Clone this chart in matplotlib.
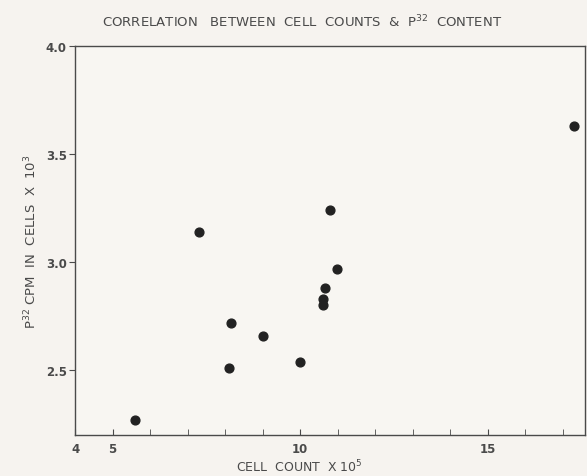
import matplotlib
matplotlib.use("Agg")
import matplotlib.pyplot as plt
from matplotlib.ticker import MultipleLocator, FixedLocator

# values
cell_count = [5.6, 7.3, 8.15, 8.1, 9.0, 10.0, 10.8, 10.97, 10.65, 10.62, 10.6, 17.3]
p32_cpm = [2.27, 3.14, 2.72, 2.51, 2.66, 2.54, 3.24, 2.97, 2.88, 2.83, 2.80, 3.63]
x_ticks = [4, 5, 10, 15]
y_ticks = [2.5, 3.0, 3.5, 4.0]

ink = "#4a4a4a"
paper = "#f6f3ef"

fig = plt.figure(figsize=(5.87, 4.77), dpi=100, facecolor=paper)
ax = fig.add_axes([0.128, 0.086, 0.869, 0.815], facecolor="#f8f6f2")

ax.scatter(cell_count, p32_cpm, s=40, color="#222222", zorder=3)

ax.set_xlim(4, 17.6)
ax.set_ylim(2.2, 4.0)
ax.xaxis.set_major_locator(FixedLocator(x_ticks))
ax.xaxis.set_minor_locator(MultipleLocator(1))
ax.set_xticklabels([str(t) for t in x_ticks])
ax.yaxis.set_major_locator(FixedLocator(y_ticks))
ax.set_yticklabels(["%.1f" % t for t in y_ticks])

ax.tick_params(axis="x", which="both", direction="in", length=4, color=ink,
               labelsize=8.5, labelcolor=ink, pad=5)
ax.tick_params(axis="y", direction="out", length=4, color=ink,
               labelsize=8.5, labelcolor=ink, pad=2)
for lab in ax.get_xticklabels() + ax.get_yticklabels():
    lab.set_fontweight("bold")
for s in ax.spines.values():
    s.set_color(ink)
    s.set_linewidth(1.0)

fig.text(0.515, 0.953,
         "CORRELATION   BETWEEN  CELL  COUNTS  &  P$^{32}$  CONTENT",
         ha="center", va="center", fontsize=9.5, color=ink)
fig.text(0.51, 0.022, "CELL  COUNT  X 10$^5$", ha="center", va="center",
         fontsize=9, color=ink)
ax.set_ylabel("P$^{32}$ CPM  IN  CELLS  X  10$^3$", fontsize=9.5,
              color=ink, labelpad=5)

fig.savefig("out.png", dpi=100, facecolor=paper)
